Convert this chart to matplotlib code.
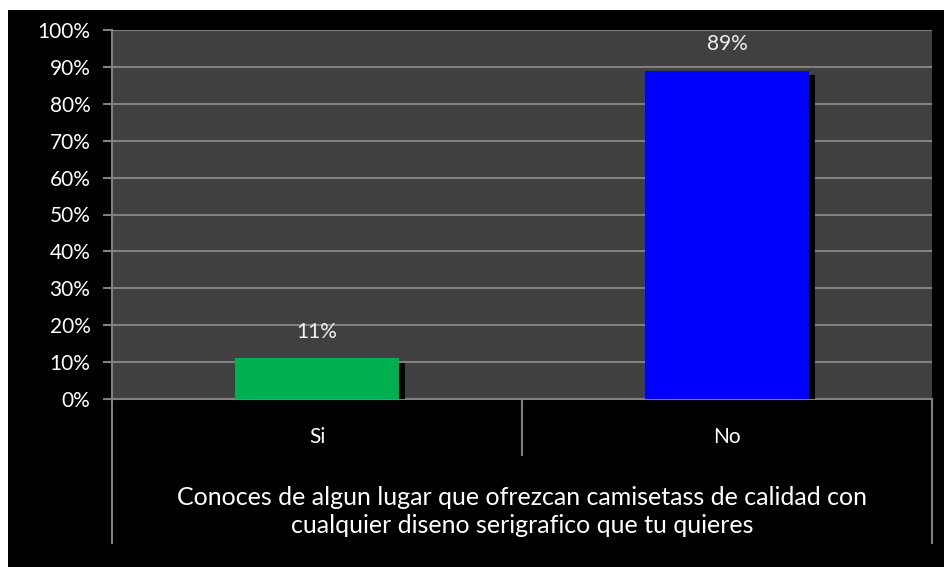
import matplotlib.pyplot as plt
import matplotlib.patheffects as pe
from matplotlib.patches import Rectangle

categories = ['Si', 'No']
values = [11, 89]
colors = ['#00b050', '#0000ff']
title = 'Conoces de algun lugar que ofrezcan camisetass de calidad con\ncualquier diseno serigrafico que tu quieres'

plt.rcParams['font.family'] = ['Lato', 'DejaVu Sans']
W, H = 945, 567
fig = plt.figure(figsize=(W / 100, H / 100), dpi=100, facecolor='white')
fig.patches.append(Rectangle((8 / W, 0), 1, 1 - 10 / H, transform=fig.transFigure,
                             facecolor='black', edgecolor='none', zorder=-10))

ax = fig.add_axes([112 / W, (H - 399) / H, 820 / W, 369 / H])
ax.set_zorder(5)
ax.set_facecolor('#404040')
grid = '#808080'

x = range(len(categories))
bars = ax.bar(x, values, width=0.40, color=colors, zorder=3)
for b in bars:
    b.set_path_effects([pe.SimplePatchShadow(offset=(4.5, -3), shadow_rgbFace='black', alpha=1.0),
                        pe.Normal()])
for xi, v in zip(x, values):
    ax.text(xi, v + 4.5, f'{v}%', ha='center', va='bottom', color='#f0f0f0', fontsize=15)

ax.set_xlim(-0.5, 1.5)
ax.set_ylim(0, 100)
ax.set_yticks(range(0, 101, 10))
ax.set_yticklabels([f'{t}%' for t in range(0, 101, 10)])
ax.yaxis.grid(True, color=grid, linewidth=1.5, zorder=0)
ax.set_axisbelow(True)
ax.tick_params(axis='y', colors=grid, labelcolor='white', labelsize=15, length=6.5, width=1.5, pad=9)
ax.set_xticks([])
for s in ['top', 'right']:
    ax.spines[s].set_visible(False)
for s in ['left', 'bottom']:
    ax.spines[s].set_color(grid)
    ax.spines[s].set_linewidth(1.5)

# category separators below the axis
tr = ax.get_xaxis_transform()
ax.plot([-0.5, -0.5], [0, -0.39], transform=tr, color=grid, lw=1.5, clip_on=False)
ax.plot([0.5, 0.5], [0, -0.152], transform=tr, color=grid, lw=1.5, clip_on=False)
ax.plot([1.5, 1.5], [0, -0.39], transform=tr, color=grid, lw=1.5, clip_on=False)

for xi, c in zip(x, categories):
    ax.text(xi, -0.103, c, transform=tr, ha='center', va='center', color='white', fontsize=15)
ax.text(0.5, -0.305, title, transform=tr, ha='center', va='center', color='white',
        fontsize=18, linespacing=1.3)

fig.savefig('out.png', dpi=100, facecolor='white')
